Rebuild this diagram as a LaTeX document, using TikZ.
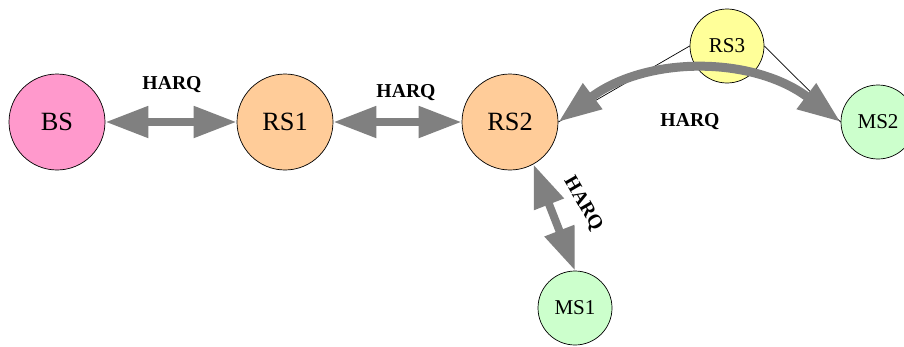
\documentclass[tikz,border=0pt]{standalone}
\usepackage{fontspec}
\setmainfont{Liberation Serif}
\usetikzlibrary{arrows.meta}

\definecolor{bspink}{RGB}{255,153,204}
\definecolor{rsorange}{RGB}{255,204,153}
\definecolor{rsyellow}{RGB}{255,255,153}
\definecolor{msgreen}{RGB}{204,255,204}

\begin{document}
\begin{tikzpicture}[>={Triangle[length=0.86cm,width=0.6cm]},
			big/.style={draw,circle,thin,minimum size=1.92cm,inner sep=0pt,font=\fontsize{15}{18}\selectfont},
			small/.style={draw,circle,thin,minimum size=1.48cm,inner sep=0pt,font=\fontsize{12}{14}\selectfont},
			link/.style={<->,gray,line width=0.16cm},
			harq/.style={font=\fontsize{11.2}{13}\selectfont\bfseries}]

			\useasboundingbox (0,0) rectangle (18.08,6.92);

			\node [big,fill=bspink] at (1.14,4.48) (bs) {BS};
			\node [big,fill=rsorange] at (5.70,4.48) (rs1) {RS1};
			\node [big,fill=rsorange] at (10.20,4.48) (rs2) {RS2};
			\node [small,fill=rsyellow] at (14.54,6.00) (rs3) {RS3};
			\node [small,fill=msgreen] at (17.56,4.48) (ms2) {MS2};
			\node [small,fill=msgreen] at (11.50,0.76) (ms1) {MS1};

			% relay path through RS3
			\draw[thin] (rs3.west) -- (rs2.east);
			\draw[thin] (rs3.east) -- (ms2.west);

			\draw[link] (bs) -- (rs1);
			\node[harq] at (3.44,5.22) (harq1) {HARQ};

			\draw[link] (rs1) -- (rs2);
			\node[harq] at (8.12,5.06) (harq2) {HARQ};

			\draw[link] (rs2.-61) -- (ms1.north);
			\node[harq,rotate=-60] at (11.66,2.84) (harq3) {HARQ};

			\draw[link,line width=0.18cm] (rs2.east) to[bend left=37] (ms2.west);
			\node[harq] at (13.80,4.48) (harq4) {HARQ};

		\end{tikzpicture}
\end{document}
